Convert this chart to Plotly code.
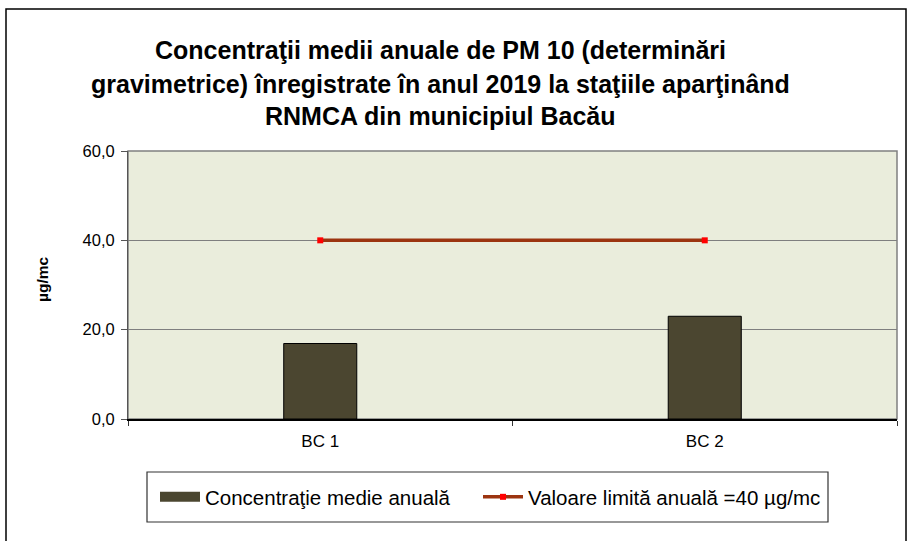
import plotly.graph_objects as go

# ---- data ----
stations = ["BC 1", "BC 2"]
pm10_annual_mean = [16.9, 23.0]
limit_value = [40, 40]
y_ticks = [0, 20, 40, 60]

title_lines = [
    "Concentraţii medii anuale de PM 10 (determinări",
    "gravimetrice) înregistrate în anul 2019 la staţiile aparţinând",
    "RNMCA din municipiul Bacău",
]
y_title = "µg/mc"
bar_name = "Concentraţie medie anuală"
line_name = "Valoare limită anuală =40 µg/mc"

# ---- layout geometry (pixels) ----
W, H = 916, 541
L, R, T, B = 128, 897, 151, 419

def px(x):
    return (x - L) / (R - L)

def py(y):
    return (B - y) / (B - T)

FONT = "Liberation Sans, Arial, sans-serif"
BAR_COLOR = "#4B4630"

fig = go.Figure()
fig.add_trace(go.Bar(
    x=stations, y=pm10_annual_mean, name=bar_name, showlegend=False,
    width=0.19,
    marker=dict(color=BAR_COLOR, line=dict(color="#000000", width=1)),
))
# legend swatch for the bars (wide rectangle like the original)
fig.add_trace(go.Scatter(
    x=[None], y=[None], name=bar_name, mode="lines",
    line=dict(color=BAR_COLOR, width=12), legend="legend",
))
fig.add_trace(go.Scatter(
    x=stations, y=limit_value, name=line_name, mode="lines+markers",
    line=dict(color="#9C3410", width=3.5),
    marker=dict(symbol="square", size=6, color="#FF0000"),
    legend="legend2",
))

shapes = [
    dict(type="rect", xref="paper", yref="paper", x0=0, x1=1, y0=0, y1=1,
         line=dict(color="#808080", width=1.5), layer="below"),
    dict(type="rect", xref="paper", yref="paper", x0=px(6), x1=px(906),
         y0=py(560), y1=py(9), line=dict(color="#000000", width=1.5)),
    dict(type="rect", xref="paper", yref="paper", x0=px(147), x1=px(828),
         y0=py(522), y1=py(472), line=dict(color="#333333", width=1.2),
         fillcolor="rgba(0,0,0,0)"),
]

annotations = []
for txt, yy in zip(title_lines, [50, 84, 116]):
    annotations.append(dict(
        text="<b>" + txt + "</b>", x=px(440), y=py(yy), xref="paper", yref="paper",
        xanchor="center", yanchor="middle", showarrow=False,
        font=dict(family=FONT, size=25, color="#000000"),
    ))
annotations.append(dict(
    text="<b>" + y_title + "</b>", x=px(42), y=py(280), xref="paper", yref="paper",
    xanchor="center", yanchor="middle", showarrow=False, textangle=-90,
    font=dict(family=FONT, size=15.5, color="#000000"),
))

legend_common = dict(
    orientation="h", y=py(497), xanchor="left", yanchor="middle",
    bgcolor="rgba(0,0,0,0)", borderwidth=0,
    font=dict(family=FONT, size=20.5, color="#000000"),
    itemwidth=40,
)

fig.update_layout(
    width=W, height=H,
    margin=dict(l=L, r=W - R, t=T, b=H - B, pad=0),
    paper_bgcolor="#FFFFFF",
    plot_bgcolor="#EAEDDC",
    separators=",.",
    font=dict(family=FONT, size=16, color="#000000"),
    showlegend=True,
    legend=dict(x=px(155), **legend_common),
    legend2=dict(x=px(478), **legend_common),
    shapes=shapes,
    annotations=annotations,
)
fig.update_yaxes(
    range=[0, 60], tickvals=y_ticks, tickformat=".1f",
    showgrid=True, gridcolor="#7F7F7F", gridwidth=1,
    showline=True, linecolor="#555555", linewidth=1,
    ticks="outside", ticklen=6, tickcolor="#555555",
    zeroline=False, tickfont=dict(size=16.5), ticklabelstandoff=3,
)
fig.update_xaxes(
    showline=True, linecolor="#000000", linewidth=1.5,
    ticks="outside", ticklen=5, tickcolor="#333333", tickson="boundaries",
    showgrid=False, tickfont=dict(size=17), ticklabelstandoff=6,
)

fig.write_html("out.html", config={"displayModeBar": False},
               post_script="document.body.style.margin='0';")
